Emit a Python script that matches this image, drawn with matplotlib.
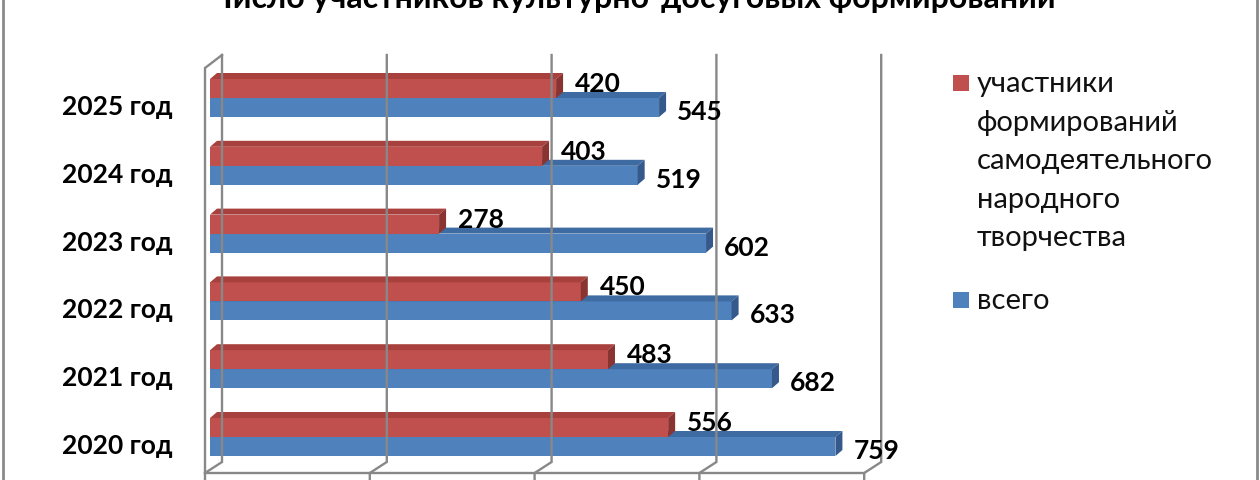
import matplotlib.pyplot as plt
from matplotlib.patches import Polygon, Rectangle
from matplotlib.lines import Line2D

plt.rcParams['font.family'] = ['Lato', 'DejaVu Sans']

# data (bottom to top, as drawn)
years = ['2020 год', '2021 год', '2022 год', '2023 год', '2024 год', '2025 год']
amateur = [556, 483, 450, 278, 403, 420]
total = [759, 682, 633, 602, 519, 545]
x_ticks = [0, 200, 400, 600, 800]

title = 'Число участников культурно-досуговых формирований'
legend_amateur = ['участники', 'формирований', 'самодеятельного', 'народного', 'творчества']
legend_total = ['всего']

red, red_top, red_side = '#C0504D', '#A8413E', '#8A3432'
blue, blue_top, blue_side = '#4F81BD', '#3F6BA3', '#35598A'
grid_col = '#888888'

W, H = 1260, 480
fig = plt.figure(figsize=(W / 100, H / 100), dpi=100)

# pixel scale of the chart (front face of bars)
sx = 0.824    # px per value unit
sy = 67.8     # px per category step
x0_px = 210   # value 0
y0_px = 437   # centre of first group

ax_l, ax_r, ax_t, ax_b = 190, 910, 40, 480
ax = fig.add_axes([ax_l / W, 1 - ax_b / H, (ax_r - ax_l) / W, (ax_b - ax_t) / H])
ax.set_xlim((ax_l - x0_px) / sx, (ax_r - x0_px) / sx)
ax.set_ylim((y0_px - ax_b) / sy, (y0_px - ax_t) / sy)
ax.axis('off')


def Y(py):
    return (y0_px - py) / sy


# 3d walls
fx = -5 / sx
bx = 12 / sx
lw = 1.7
for t in x_ticks:
    ax.plot([t + bx, t + bx, t + fx, t + fx], [Y(55), Y(462), Y(473), Y(482)],
            color=grid_col, lw=lw, solid_joinstyle='miter', clip_on=False)
ax.plot([fx, fx, bx], [Y(473), Y(68), Y(55)], color=grid_col, lw=lw, solid_joinstyle='miter')
ax.plot([fx, x_ticks[-1] + fx], [Y(473), Y(473)], color=grid_col, lw=lw)

# 3d bars
h = 19 / sy
ddx = 7 / sx
ddy = 6 / sy


def bar3d(v, lo, hi, face, top, side):
    ax.add_patch(Rectangle((0, lo), v, hi - lo, facecolor=face, edgecolor='none'))
    ax.add_patch(Polygon([(0, hi), (v, hi), (v + ddx, hi + ddy), (ddx, hi + ddy)],
                         closed=True, facecolor=top, edgecolor='none'))
    ax.add_patch(Polygon([(v, lo), (v, hi), (v + ddx, hi + ddy), (v + ddx, lo + ddy)],
                         closed=True, facecolor=side, edgecolor='none'))


lab_kw = dict(fontsize=19, fontweight='bold', color='black', va='baseline', ha='left')
for i in range(len(years)):
    bar3d(total[i], i - h, i, blue, blue_top, blue_side)
    bar3d(amateur[i], i, i + h, red, red_top, red_side)
    ax.text(amateur[i] + 19 / sx, i + h / 2 + (6 - 9.5) / sy, str(amateur[i]), **lab_kw)
    ax.text(total[i] + 18 / sx, i - h / 2 - (3 + 9.5) / sy, str(total[i]), **lab_kw)
    ax.text(-37 / sx, i - 17 / sy, years[i], fontsize=19, fontweight='bold',
            ha='right', va='baseline')

# title (its top is cut off in the original picture)
fig.text(633 / W, 1 - 8 / H, title, ha='center', va='baseline',
         fontsize=23, fontweight='bold')

# legend drawn by hand
def legend_entry(py_mark, lines, color):
    fig.add_artist(Rectangle((953 / W, 1 - (py_mark + 8) / H), 16 / W, 16 / H,
                             transform=fig.transFigure, facecolor=color, edgecolor='none'))
    for k, s in enumerate(lines):
        fig.text(977 / W, 1 - (92 + k * 38.5 + (py_mark - 83)) / H, s,
                 fontsize=21, va='baseline', ha='left', color='#111111')


legend_entry(83, legend_amateur, red)
legend_entry(300, legend_total, blue)

# outer frame sides
for xp in (3, 1257):
    fig.add_artist(Line2D([xp / W, xp / W], [0, 1], transform=fig.transFigure,
                          color='#8a8a8a', lw=2))

fig.savefig('out.png', dpi=100)
